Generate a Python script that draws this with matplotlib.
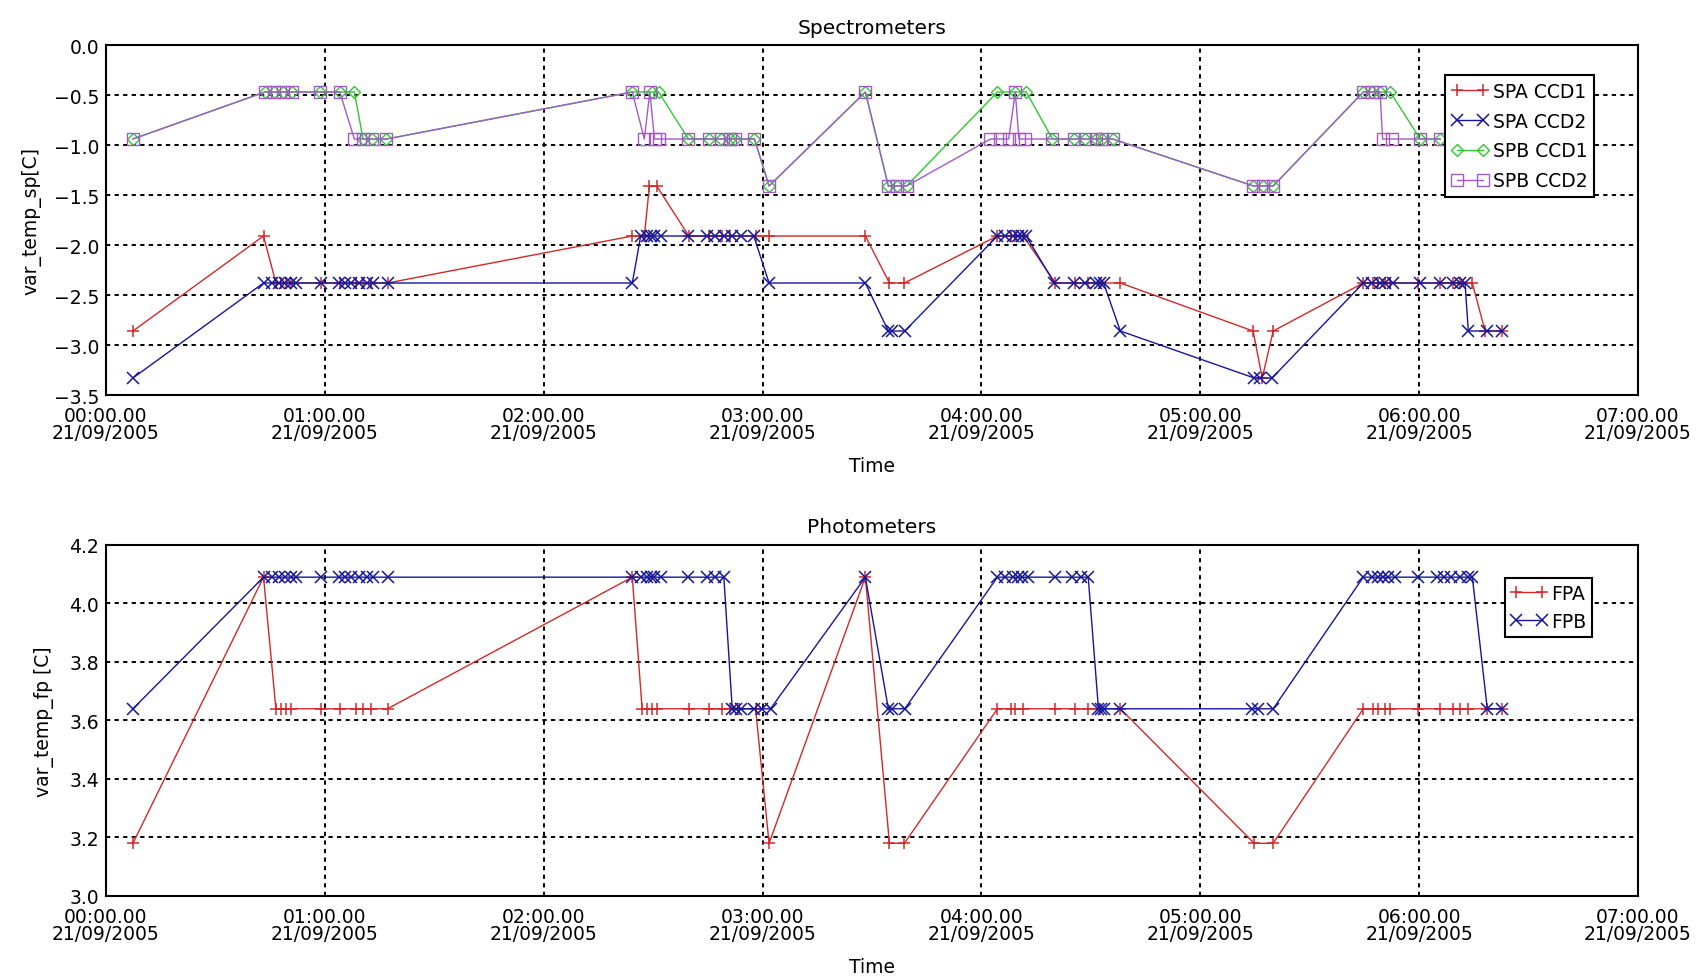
import matplotlib
matplotlib.use("Agg")
import matplotlib.pyplot as plt

# ---------------- data (time in minutes after 00:00, 21/09/2005) ----------------
spa1_t = [7.4, 43.2, 46.6, 48.0, 49.4, 50.7, 58.9, 64.3, 68.5, 70.6, 72.6, 77.2,
          144.3, 147.6, 149.0, 151.0, 159.8, 165.3, 169.0, 171.2, 178.1, 181.8,
          208.2, 214.8, 218.9, 244.4, 248.0, 249.3, 251.5, 260.3, 265.8, 269.3,
          272.6, 278.1, 314.5, 317.0, 320.0, 344.7, 347.4, 348.8, 350.7, 352.1,
          359.8, 365.8, 369.4, 371.3, 374.6, 378.1, 382.8]
spa1_v = [-2.86, -1.91, -2.38, -2.38, -2.38, -2.38, -2.38, -2.38, -2.38, -2.38, -2.38, -2.38,
          -1.91, -1.91, -1.41, -1.41, -1.91, -1.91, -1.91, -1.91, -1.91, -1.91,
          -1.91, -2.38, -2.38, -1.91, -1.91, -1.91, -1.91, -2.38, -2.38, -2.38,
          -2.38, -2.38, -2.86, -3.33, -2.86, -2.38, -2.38, -2.38, -2.38, -2.38,
          -2.38, -2.38, -2.38, -2.38, -2.38, -2.86, -2.86]

spa2_t = [7.4, 43.2, 45.5, 47.5, 49.2, 50.8, 52.0, 58.9, 63.8, 65.5, 67.2, 69.4, 71.5, 73.2, 77.2,
          144.3, 146.6, 148.4, 149.3, 150.2, 152.1, 159.7, 164.9, 167.1, 169.4, 171.7, 174.0,
          177.6, 181.8, 208.2, 214.5, 215.5, 219.0, 244.4, 246.6, 248.8, 250.1, 251.2, 252.3,
          260.0, 265.5, 268.5, 271.3, 272.6, 273.5, 278.1, 314.8, 316.5, 319.7,
          344.7, 347.2, 349.3, 350.7, 352.9, 360.3, 365.8, 369.4, 371.3, 372.6, 373.5, 378.7, 382.8]
spa2_v = [-3.33, -2.38, -2.38, -2.38, -2.38, -2.38, -2.38, -2.38, -2.38, -2.38, -2.38, -2.38, -2.38, -2.38, -2.38,
          -2.38, -1.91, -1.91, -1.91, -1.91, -1.91, -1.91, -1.91, -1.91, -1.91, -1.91, -1.91,
          -1.91, -2.38, -2.38, -2.86, -2.86, -2.86, -1.91, -1.91, -1.91, -1.91, -1.91, -1.91,
          -2.38, -2.38, -2.38, -2.38, -2.38, -2.38, -2.86, -3.33, -3.33, -3.33,
          -2.38, -2.38, -2.38, -2.38, -2.38, -2.38, -2.38, -2.38, -2.38, -2.38, -2.86, -2.86, -2.86]

spb1_t = [7.4, 43.6, 46.0, 48.5, 51.0, 58.8, 64.1, 68.1, 70.5, 73.0, 76.9,
          144.3, 149.6, 151.5, 159.7, 165.2, 168.5, 171.0, 172.5, 177.8, 181.8,
          208.2, 214.5, 217.0, 219.5, 244.4, 249.3, 252.3, 259.5, 265.5, 268.5,
          271.3, 273.0, 276.0, 314.6, 317.2, 320.0, 344.7, 347.2, 349.3, 352.1,
          360.3, 365.8]
spb1_v = [-0.94, -0.47, -0.47, -0.47, -0.47, -0.47, -0.47, -0.47, -0.94, -0.94, -0.94,
          -0.47, -0.47, -0.47, -0.94, -0.94, -0.94, -0.94, -0.94, -0.94, -1.41,
          -0.47, -1.41, -1.41, -1.41, -0.47, -0.47, -0.47, -0.94, -0.94, -0.94,
          -0.94, -0.94, -0.94, -1.41, -1.41, -1.41, -0.47, -0.47, -0.47, -0.47,
          -0.94, -0.94]

spb2_t = [7.4, 43.6, 46.0, 48.5, 51.0, 58.8, 64.1, 68.1, 70.5, 73.0, 76.9,
          144.3, 147.6, 149.1, 150.4, 151.5, 159.7, 165.2, 168.5, 171.0, 172.5, 177.8, 181.8,
          208.2, 214.5, 217.0, 219.5, 242.5, 245.0, 247.5, 249.3, 250.3, 252.0,
          259.5, 265.5, 268.5, 271.3, 273.0, 276.0, 314.6, 317.2, 320.0,
          344.7, 347.2, 349.3, 350.0, 352.6, 360.3, 365.8]
spb2_v = [-0.94, -0.47, -0.47, -0.47, -0.47, -0.47, -0.47, -0.94, -0.94, -0.94, -0.94,
          -0.47, -0.94, -0.47, -0.94, -0.94, -0.94, -0.94, -0.94, -0.94, -0.94, -0.94, -1.41,
          -0.47, -1.41, -1.41, -1.41, -0.94, -0.94, -0.94, -0.47, -0.94, -0.94,
          -0.94, -0.94, -0.94, -0.94, -0.94, -0.94, -1.41, -1.41, -1.41,
          -0.47, -0.47, -0.47, -0.94, -0.94, -0.94, -0.94]

fpa_t = [7.4, 43.2, 46.6, 48.0, 49.4, 50.7, 58.9, 64.3, 68.5, 70.6, 72.6, 77.2,
         144.3, 147.0, 148.4, 149.8, 151.0, 159.8, 165.3, 169.0, 171.2, 173.5, 178.1, 181.8,
         208.2, 214.8, 218.9, 244.4, 248.0, 249.3, 251.5, 260.3, 265.8, 269.3, 272.6, 278.1,
         314.8, 320.0, 344.7, 347.4, 348.8, 350.7, 352.1, 359.8, 365.8, 369.4, 371.3, 373.5,
         378.7, 382.8]
fpa_v = [3.18, 4.09, 3.64, 3.64, 3.64, 3.64, 3.64, 3.64, 3.64, 3.64, 3.64, 3.64,
         4.09, 3.64, 3.64, 3.64, 3.64, 3.64, 3.64, 3.64, 3.64, 3.64, 3.64, 3.18,
         4.09, 3.18, 3.18, 3.64, 3.64, 3.64, 3.64, 3.64, 3.64, 3.64, 3.64, 3.64,
         3.18, 3.18, 3.64, 3.64, 3.64, 3.64, 3.64, 3.64, 3.64, 3.64, 3.64, 3.64,
         3.64, 3.64]

fpb_t = [7.4, 43.2, 45.5, 47.5, 49.2, 50.8, 52.0, 58.9, 63.8, 65.5, 67.2, 69.4, 71.5, 73.2, 77.2,
         144.3, 146.6, 148.4, 149.3, 150.2, 152.1, 159.7, 164.9, 167.1, 169.4,
         171.7, 172.6, 174.0, 177.6, 179.9, 182.2, 208.2, 214.5, 215.5, 219.0,
         244.4, 246.6, 248.8, 250.1, 251.2, 252.9, 260.3, 264.9, 267.2, 269.3,
         272.1, 272.8, 273.5, 278.1, 314.3, 315.9, 320.0,
         344.7, 347.2, 348.8, 350.1, 351.5, 353.4, 359.8, 365.0, 366.8, 368.7, 371.3, 373.5, 374.6,
         378.7, 382.8]
fpb_v = [3.64, 4.09, 4.09, 4.09, 4.09, 4.09, 4.09, 4.09, 4.09, 4.09, 4.09, 4.09, 4.09, 4.09, 4.09,
         4.09, 4.09, 4.09, 4.09, 4.09, 4.09, 4.09, 4.09, 4.09, 4.09,
         3.64, 3.64, 3.64, 3.64, 3.64, 3.64, 4.09, 3.64, 3.64, 3.64,
         4.09, 4.09, 4.09, 4.09, 4.09, 4.09, 4.09, 4.09, 4.09, 4.09,
         3.64, 3.64, 3.64, 3.64, 3.64, 3.64, 3.64,
         4.09, 4.09, 4.09, 4.09, 4.09, 4.09, 4.09, 4.09, 4.09, 4.09, 4.09, 4.09, 4.09,
         3.64, 3.64]

x_ticks = [0, 60, 120, 180, 240, 300, 360, 420]
x_labels = ["00:00.00\n21/09/2005", "01:00.00\n21/09/2005", "02:00.00\n21/09/2005",
            "03:00.00\n21/09/2005", "04:00.00\n21/09/2005", "05:00.00\n21/09/2005",
            "06:00.00\n21/09/2005", "07:00.00\n21/09/2005"]
sp_ticks = [-3.5, -3.0, -2.5, -2.0, -1.5, -1.0, -0.5, 0.0]
fp_ticks = [3.0, 3.2, 3.4, 3.6, 3.8, 4.0, 4.2]

# ---------------- style ----------------
plt.rcParams['font.family'] = ['DejaVu Sans']
plt.rcParams['font.size'] = 13
RED = '#d42828'
BLUE = '#16169a'
GREEN = '#30c830'
PURPLE = '#a25ac8'
FS = 13.5

fig = plt.figure(figsize=(17.06, 9.79), dpi=100)
ax1 = fig.add_axes([0.0621, 0.5955, 0.898, 0.3575])
ax2 = fig.add_axes([0.0621, 0.0838, 0.898, 0.3585])


def style_axis(ax, yticks, ylim, ylabel, title, labelx):
    ax.set_xlim(0, 420)
    ax.set_ylim(*ylim)
    ax.set_xticks(x_ticks)
    ax.set_xticklabels(x_labels, fontsize=FS, linespacing=0.85)
    ax.set_yticks(yticks)
    ax.set_yticklabels([f"{v:.1f}".replace('-', '\u2212') for v in yticks], fontsize=FS)
    ax.tick_params(axis='x', length=0, pad=8)
    ax.tick_params(axis='y', length=0, pad=5)
    ax.grid(True, color='black', linestyle=(0, (2.2, 2.2)), linewidth=1.4)
    ax.set_axisbelow(True)
    for s in ax.spines.values():
        s.set_linewidth(1.5)
        s.set_color('black')
    ax.set_xlabel("Time", fontsize=FS, labelpad=10)
    ax.set_ylabel(ylabel, fontsize=FS)
    ax.yaxis.set_label_coords(labelx, 0.5)
    ax.set_title(title, fontsize=14.5, pad=9)


lw = 1.0
ms = 9
ax1.plot(spa1_t, spa1_v, color=RED, lw=lw, marker='+', ms=ms, mew=1.1, label='SPA CCD1')
ax1.plot(spa2_t, spa2_v, color=BLUE, lw=lw, marker='x', ms=8, mew=1.1, label='SPA CCD2')
ax1.plot(spb1_t, spb1_v, color=GREEN, lw=lw, marker='D', ms=6.5, mew=1.0,
         mfc='none', label='SPB CCD1')
ax1.plot(spb2_t, spb2_v, color=PURPLE, lw=lw, marker='s', ms=8, mew=1.0,
         mfc='none', label='SPB CCD2')
style_axis(ax1, sp_ticks, (-3.5, 0.0), "var_temp_sp[C]", "Spectrometers", -0.042)
leg1 = ax1.legend(loc='upper left', bbox_to_anchor=(0.874, 0.914), borderaxespad=0,
                  fontsize=FS, handlelength=2.0, handletextpad=0.2, labelspacing=0.58,
                  borderpad=0.35, numpoints=2, fancybox=False, framealpha=1,
                  edgecolor='black')
leg1.get_frame().set_linewidth(1.5)

ax2.plot(fpa_t, fpa_v, color=RED, lw=lw, marker='+', ms=ms, mew=1.1, label='FPA')
ax2.plot(fpb_t, fpb_v, color=BLUE, lw=lw, marker='x', ms=8, mew=1.1, label='FPB')
style_axis(ax2, fp_ticks, (3.0, 4.2), "var_temp_fp [C]", "Photometers", -0.034)
leg2 = ax2.legend(loc='upper left', bbox_to_anchor=(0.913, 0.906), borderaxespad=0,
                  fontsize=FS, handlelength=2.0, handletextpad=0.2, labelspacing=0.5,
                  borderpad=0.3, numpoints=2, fancybox=False, framealpha=1,
                  edgecolor='black')
leg2.get_frame().set_linewidth(1.5)

fig.savefig("out.png", dpi=100)
